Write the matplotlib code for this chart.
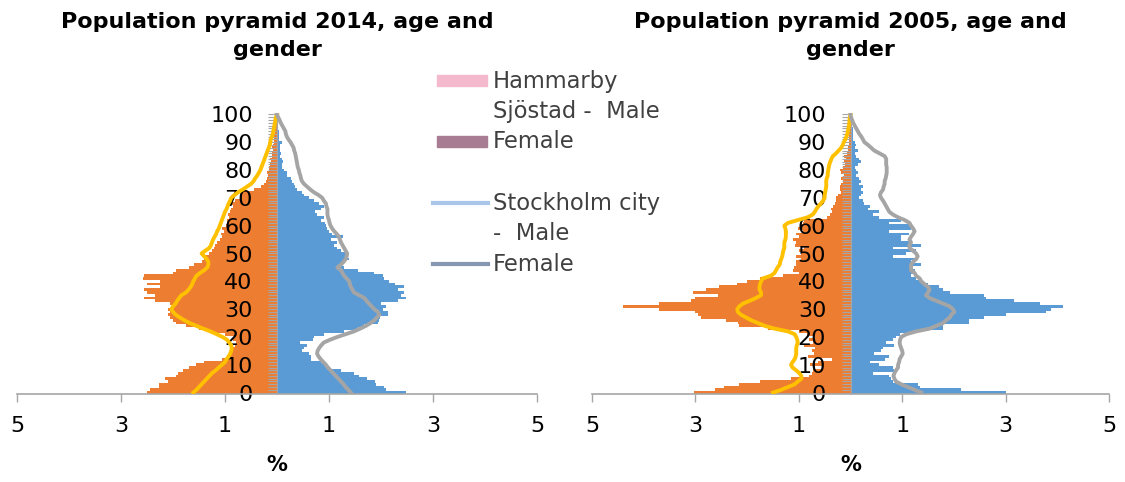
import numpy as np
import matplotlib
matplotlib.use("Agg")
import matplotlib.pyplot as plt
from matplotlib.patches import Rectangle
from matplotlib.lines import Line2D
from matplotlib.ticker import FixedLocator, MultipleLocator

plt.rcParams['font.family'] = ['DejaVu Sans']

ages = list(range(0, 101))

# Hammarby Sjöstad 2014, share of population per one-year age group (%)
hs14_male = [
    2.50, 2.45, 2.26, 2.27, 2.10, 2.15, 1.95, 1.90, 1.80, 1.70,
    1.55, 1.40, 1.05, 0.97, 0.92, 0.90, 0.88, 0.80, 0.78, 0.85,
    0.80, 1.00, 1.25, 1.50, 1.75, 1.95, 2.00, 2.05, 2.10, 2.05,
    2.10, 2.00, 2.05, 2.35, 2.55, 2.35, 2.50, 2.55, 2.25, 2.50,
    2.25, 2.57, 2.55, 2.00, 1.95, 1.70, 1.60, 1.45, 1.40, 1.42,
    1.30, 1.25, 1.22, 1.20, 1.15, 1.10, 1.05, 1.08, 1.02, 1.05,
    0.98, 0.95, 0.97, 0.92, 0.95, 0.90, 0.88, 0.85, 0.88, 0.80,
    0.70, 0.68, 0.70, 0.45, 0.30, 0.25, 0.22, 0.20, 0.18, 0.20,
    0.16, 0.15, 0.14, 0.12, 0.14, 0.10, 0.10, 0.08, 0.09, 0.07,
    0.06, 0.05, 0.05, 0.04, 0.03, 0.03, 0.02, 0.02, 0.01, 0.01, 0.01]
hs14_female = [
    2.48, 2.10, 2.06, 1.90, 1.88, 1.74, 1.58, 1.48, 1.23, 1.00,
    0.94, 0.84, 0.65, 0.66, 0.62, 0.48, 0.52, 0.58, 0.45, 0.70,
    0.72, 0.90, 1.29, 1.55, 1.68, 1.95, 1.97, 1.98, 2.13, 2.13,
    2.03, 2.10, 2.00, 2.32, 2.48, 2.39, 2.45, 2.32, 2.45, 2.26,
    2.16, 2.06, 2.03, 1.87, 1.55, 1.29, 1.23, 1.29, 1.39, 1.35,
    1.32, 1.23, 1.16, 1.10, 1.16, 1.03, 1.26, 1.06, 1.00, 0.97,
    0.94, 0.92, 0.84, 0.90, 0.77, 0.74, 0.84, 0.90, 0.81, 0.71,
    0.61, 0.52, 0.48, 0.39, 0.35, 0.32, 0.29, 0.26, 0.19, 0.19,
    0.13, 0.10, 0.10, 0.11, 0.09, 0.06, 0.07, 0.06, 0.05, 0.06,
    0.10, 0.04, 0.03, 0.04, 0.03, 0.02, 0.02, 0.01, 0.01, 0.01, 0.00]

# Stockholm city 2014
sthlm14_male = [
    1.61, 1.55, 1.50, 1.45, 1.40, 1.35, 1.30, 1.25, 1.18, 1.12,
    1.06, 1.00, 0.97, 0.93, 0.90, 0.88, 0.87, 0.88, 0.92, 0.96,
    1.05, 1.16, 1.28, 1.42, 1.55, 1.68, 1.78, 1.87, 1.95, 2.00,
    2.03, 2.00, 1.95, 1.92, 1.88, 1.84, 1.75, 1.70, 1.66, 1.63,
    1.61, 1.58, 1.55, 1.48, 1.40, 1.34, 1.32, 1.32, 1.35, 1.40,
    1.45, 1.38, 1.30, 1.27, 1.25, 1.23, 1.20, 1.17, 1.15, 1.12,
    1.10, 1.08, 1.06, 1.04, 1.02, 1.00, 0.97, 0.95, 0.93, 0.90,
    0.88, 0.82, 0.75, 0.66, 0.58, 0.50, 0.45, 0.42, 0.38, 0.35,
    0.32, 0.30, 0.28, 0.26, 0.24, 0.22, 0.20, 0.18, 0.16, 0.14,
    0.13, 0.12, 0.10, 0.08, 0.07, 0.06, 0.05, 0.04, 0.03, 0.02, 0.00]
sthlm14_female = [
    1.42, 1.37, 1.32, 1.28, 1.23, 1.18, 1.13, 1.08, 1.03, 0.98,
    0.94, 0.89, 0.84, 0.80, 0.77, 0.78, 0.81, 0.85, 0.90, 1.02,
    1.16, 1.32, 1.48, 1.60, 1.71, 1.80, 1.87, 1.92, 1.97, 1.94,
    1.87, 1.82, 1.77, 1.72, 1.68, 1.58, 1.48, 1.45, 1.42, 1.40,
    1.39, 1.34, 1.29, 1.26, 1.23, 1.16, 1.23, 1.28, 1.32, 1.34,
    1.35, 1.32, 1.29, 1.26, 1.23, 1.21, 1.19, 1.15, 1.10, 1.06,
    1.03, 1.01, 1.00, 0.98, 0.97, 0.97, 0.97, 0.95, 0.94, 0.90,
    0.87, 0.80, 0.71, 0.64, 0.58, 0.52, 0.48, 0.46, 0.45, 0.43,
    0.42, 0.40, 0.39, 0.38, 0.37, 0.36, 0.35, 0.33, 0.32, 0.29,
    0.26, 0.22, 0.19, 0.17, 0.16, 0.13, 0.10, 0.07, 0.05, 0.02, 0.00]

# Hammarby Sjöstad 2005
hs05_male = [
    3.02, 2.63, 2.44, 2.15, 1.76, 1.15, 0.80, 0.75, 0.72, 0.55,
    0.78, 0.62, 0.35, 0.82, 0.70, 0.75, 0.68, 0.90, 0.72, 0.80,
    0.68, 0.85, 1.00, 1.60, 2.15, 2.18, 2.40, 2.89, 2.95, 3.00,
    3.70, 4.40, 3.70, 3.08, 3.00, 2.57, 3.05, 2.80, 2.55, 2.20,
    2.00, 1.75, 1.31, 1.00, 1.12, 1.10, 1.05, 1.05, 0.95, 1.05,
    0.95, 1.00, 0.90, 1.08, 1.05, 1.12, 1.00, 1.05, 0.92, 1.02,
    0.95, 0.92, 0.90, 0.45, 0.40, 0.35, 0.38, 0.34, 0.30, 0.28,
    0.28, 0.25, 0.18, 0.20, 0.21, 0.18, 0.15, 0.18, 0.12, 0.18,
    0.20, 0.15, 0.10, 0.12, 0.08, 0.12, 0.06, 0.05, 0.04, 0.03,
    0.03, 0.02, 0.02, 0.02, 0.01, 0.01, 0.01, 0.01, 0.00, 0.00, 0.00]
hs05_female = [
    3.01, 2.14, 1.34, 1.30, 0.82, 0.79, 0.75, 0.43, 0.85, 0.82,
    0.56, 0.37, 0.66, 0.75, 0.46, 0.59, 0.63, 0.85, 0.69, 0.82,
    0.88, 0.95, 1.27, 1.79, 1.79, 2.30, 2.30, 2.59, 3.01, 3.79,
    3.88, 4.11, 3.66, 3.17, 2.63, 2.59, 1.92, 1.79, 1.72, 1.50,
    1.37, 1.27, 1.17, 1.27, 1.24, 1.21, 1.37, 1.17, 1.27, 0.82,
    1.08, 1.27, 0.82, 1.37, 1.17, 0.98, 0.98, 1.14, 0.75, 1.17,
    1.17, 0.75, 0.98, 0.56, 0.43, 0.56, 0.34, 0.37, 0.27, 0.24,
    0.17, 0.21, 0.24, 0.21, 0.24, 0.17, 0.21, 0.17, 0.11, 0.14,
    0.11, 0.08, 0.14, 0.21, 0.17, 0.11, 0.08, 0.14, 0.08, 0.11,
    0.08, 0.05, 0.05, 0.04, 0.05, 0.04, 0.02, 0.01, 0.01, 0.01, 0.00]

# Stockholm city 2005
sthlm05_male = [
    1.50, 1.34, 1.21, 1.08, 1.02, 0.95, 0.95, 0.99, 1.05, 1.12,
    1.15, 1.12, 1.08, 1.06, 1.05, 1.05, 1.05, 1.04, 1.02, 1.03,
    1.05, 1.08, 1.21, 1.47, 1.66, 1.79, 1.92, 2.02, 2.12, 2.18,
    2.19, 2.15, 2.08, 1.95, 1.83, 1.73, 1.73, 1.76, 1.76, 1.75,
    1.73, 1.70, 1.54, 1.47, 1.44, 1.41, 1.37, 1.36, 1.34, 1.32,
    1.31, 1.30, 1.28, 1.28, 1.28, 1.26, 1.25, 1.25, 1.25, 1.26,
    1.28, 1.21, 1.02, 0.83, 0.73, 0.69, 0.66, 0.62, 0.57, 0.53,
    0.50, 0.50, 0.49, 0.48, 0.47, 0.47, 0.47, 0.46, 0.44, 0.44,
    0.43, 0.42, 0.41, 0.39, 0.37, 0.34, 0.28, 0.23, 0.18, 0.15,
    0.13, 0.10, 0.08, 0.06, 0.05, 0.04, 0.03, 0.02, 0.02, 0.01, 0.00]
sthlm05_female = [
    1.37, 1.24, 1.11, 0.98, 0.88, 0.85, 0.83, 0.85, 0.88, 0.92,
    0.92, 0.94, 0.95, 0.98, 1.01, 1.00, 0.98, 0.96, 0.95, 0.96,
    0.98, 1.08, 1.27, 1.53, 1.66, 1.79, 1.85, 1.92, 1.95, 2.01,
    1.98, 1.92, 1.79, 1.66, 1.53, 1.46, 1.50, 1.53, 1.50, 1.43,
    1.37, 1.34, 1.27, 1.24, 1.17, 1.17, 1.17, 1.21, 1.27, 1.30,
    1.27, 1.21, 1.14, 1.14, 1.17, 1.14, 1.17, 1.21, 1.24, 1.21,
    1.17, 1.14, 1.05, 0.92, 0.82, 0.75, 0.72, 0.69, 0.66, 0.63,
    0.59, 0.57, 0.59, 0.63, 0.64, 0.66, 0.66, 0.68, 0.69, 0.70,
    0.70, 0.70, 0.69, 0.69, 0.69, 0.66, 0.56, 0.46, 0.40, 0.34,
    0.27, 0.24, 0.21, 0.17, 0.14, 0.11, 0.08, 0.05, 0.03, 0.01, 0.00]

titles = ["Population pyramid 2014, age and\ngender",
          "Population pyramid 2005, age and\ngender"]
xticks = [-5, -3, -1, 1, 3, 5]

ORANGE = '#ED7D31'
BLUE = '#5B9BD5'
YELLOW = '#FFC000'
GREY = '#A5A5A5'
AXIS_GREY = '#A6A6A6'

W, H = 1125, 482
fig = plt.figure(figsize=(W / 100, H / 100), dpi=100)


def fx(x):
    return x / W


def fy(y):
    return 1 - y / H


panels = [
    (17, 520, hs14_male, hs14_female, sthlm14_male, sthlm14_female, titles[0]),
    (592, 517, hs05_male, hs05_female, sthlm05_male, sthlm05_female, titles[1]),
]

for left, width, hm, hf, sm, sf, title in panels:
    ax = fig.add_axes([fx(left), fy(394), fx(width), 281 / H])
    ax.barh(ages, -np.array(hm), height=1.0, color=ORANGE, linewidth=0)
    ax.barh(ages, hf, height=1.0, color=BLUE, linewidth=0)
    ax.plot(-np.array(sm), ages, color=YELLOW, lw=2.8, solid_joinstyle='round', zorder=3)
    ax.plot(sf, ages, color=GREY, lw=2.8, solid_joinstyle='round', zorder=3)

    ax.set_xlim(-5, 5)
    ax.set_ylim(-0.5, 100.5)

    for s in ['top', 'right']:
        ax.spines[s].set_visible(False)
    ax.spines['left'].set_position(('data', 0))
    ax.spines['left'].set_color(AXIS_GREY)
    ax.spines['bottom'].set_color(AXIS_GREY)
    ax.spines['bottom'].set_linewidth(1.2)

    ax.xaxis.set_major_locator(FixedLocator(xticks))
    ax.set_xticklabels([str(abs(v)) for v in xticks])
    ax.tick_params(axis='x', direction='out', length=6, width=1, color=AXIS_GREY,
                   labelsize=16, pad=10)

    ax.yaxis.set_major_locator(MultipleLocator(10))
    ax.yaxis.set_minor_locator(MultipleLocator(1))
    ax.tick_params(axis='y', which='both', direction='out', length=6.5, width=0.8,
                   color=AXIS_GREY, labelsize=16, pad=11)

    cx = left + width / 2
    fig.text(fx(cx), fy(12), title, ha='center', va='top', fontsize=16,
             fontweight='bold', linespacing=1.5)
    fig.text(fx(cx), fy(465), '%', ha='center', va='center', fontsize=15,
             fontweight='bold')

# legend block between the two pyramids
TXT = '#404040'
fig.patches.append(Rectangle((fx(437), fy(86)), fx(50), 11 / H, color='#F4B9CD',
                             transform=fig.transFigure, figure=fig))
fig.patches.append(Rectangle((fx(437), fy(147)), fx(50), 11 / H, color='#A87C93',
                             transform=fig.transFigure, figure=fig))
fig.lines.append(Line2D([fx(433), fx(488)], [fy(203), fy(203)], color='#A9C5EA', lw=3,
                        transform=fig.transFigure, figure=fig))
fig.lines.append(Line2D([fx(433), fx(488)], [fy(264), fy(264)], color='#8496B0', lw=3,
                        transform=fig.transFigure, figure=fig))
for txt, base in [("Hammarby", 88), ("Sjöstad -  Male", 118), ("Female", 148),
                  ("Stockholm city", 210), ("-  Male", 240), ("Female", 271)]:
    fig.text(fx(493), fy(base), txt, ha='left', va='baseline', fontsize=16.3, color=TXT)

fig.savefig('out.png', dpi=100)
